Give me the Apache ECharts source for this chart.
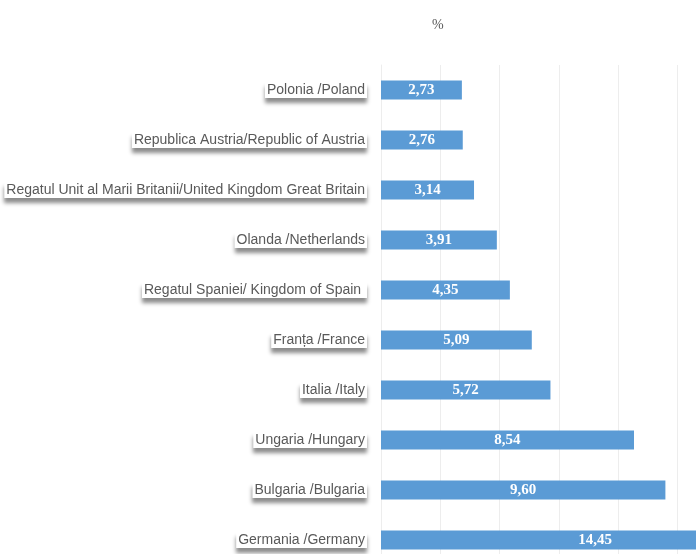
<!DOCTYPE html>
<html>
<head>
<meta charset="utf-8">
<script src="https://cdn.jsdelivr.net/npm/echarts@6/dist/echarts.min.js"></script>
<style>
  html, body { margin: 0; padding: 0; background: #fff; overflow: hidden; }
  /* the chart is bigger than the window: the reference is cropped on the right and bottom */
  #chart { width: 900px; height: 620px; }
</style>
</head>
<body>
<div id="chart"></div>
<script>
// categories top to bottom as in the picture
var countries = [
  'Polonia /Poland',
  'Republica Austria/Republic of Austria',
  'Regatul Unit al Marii Britanii/United Kingdom Great Britain',
  'Olanda /Netherlands',
  'Regatul Spaniei/ Kingdom of Spain ',
  'Franța /France',
  'Italia /Italy',
  'Ungaria /Hungary',
  'Bulgaria /Bulgaria',
  'Germania /Germany'
];
var shares = [2.73, 2.76, 3.14, 3.91, 4.35, 5.09, 5.72, 8.54, 9.60, 14.45];
var unitText = '%';

var chart = echarts.init(document.getElementById('chart'));

chart.setOption({
  animation: false,
  backgroundColor: '#ffffff',
  title: {
    text: unitText,
    left: 427,
    top: 13,
    textStyle: { color: '#595959', fontSize: 14, fontWeight: 'normal', fontFamily: 'Liberation Serif' }
  },
  grid: { left: 381, top: 65, width: 474, height: 500 },
  xAxis: {
    type: 'value',
    min: 0,
    max: 16,
    interval: 2,
    axisLabel: { show: false },
    axisLine: { show: false },
    axisTick: { show: false },
    splitLine: { show: true, lineStyle: { color: '#ededed', width: 1 } }
  },
  yAxis: {
    type: 'category',
    inverse: true,
    data: countries,
    axisLine: { show: true, lineStyle: { color: '#ededed' } },
    axisTick: { show: false },
    axisLabel: {
      color: '#595959',
      fontSize: 14,
      fontFamily: 'Liberation Sans',
      margin: 14,
      backgroundColor: '#ffffff',
      padding: [1, 2, 1, 2],
      shadowColor: 'rgba(0,0,0,0.45)',
      shadowBlur: 4,
      shadowOffsetY: 5
    }
  },
  series: [{
    type: 'bar',
    data: shares,
    barWidth: 19,
    itemStyle: { color: '#5b9bd5' },
    label: {
      show: true,
      position: 'inside',
      color: '#ffffff',
      fontSize: 15,
      fontFamily: 'Liberation Serif',
      fontWeight: 'bold',
      formatter: function (p) { return p.value.toFixed(2).replace('.', ','); }
    }
  }]
});
</script>
</body>
</html>
